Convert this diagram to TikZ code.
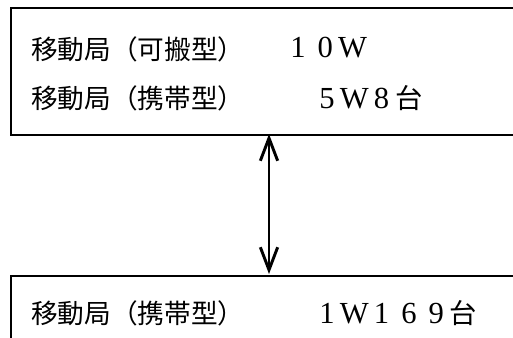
\documentclass[tikz,border=0pt]{standalone}
\usepackage{fontspec}
\newfontfamily\jp{Noto Sans CJK JP}
\newfontfamily\ser{Liberation Serif}
\usetikzlibrary{arrows.meta}
\newcommand{\fwc}[1]{\makebox[1em]{\ser\scalebox{1.12}{#1}}}
\newcommand{\fwk}[1]{\makebox[1em]{#1}}
\begin{document}
\begin{tikzpicture}[x=0.75pt,y=-0.75pt,
  boxline/.style={line width=2pt},
  txt/.style={anchor=west,inner sep=0pt,font=\jp\fontsize{20}{22}\selectfont},
  num/.style={anchor=west,inner sep=0pt,font=\jp\fontsize{20.5}{22}\selectfont},
  conn/.style={line width=2.2pt,{Straight Barb[length=17pt,width=13pt]}-{Straight Barb[length=17pt,width=13pt]}}]
\useasboundingbox (0,0) rectangle (513,338);
% top box (open to the right)
\draw[boxline] (513,8) -- (11,8) -- (11,135) -- (513,135);
% bottom box (open to the right and bottom)
\draw[boxline] (513,276) -- (11,276) -- (11,338);
\coordinate (topedge) at (269,134);
\coordinate (botedge) at (269,274);
\draw[conn] (topedge) -- (botedge);
\node[txt] (t1) at (31,49) {移動局（可搬型）};
\node[num] (v1) at (284,48) {\fwc{1}\fwc{0}\fwc{W}};
\node[txt] (t2) at (31,98) {移動局（携帯型）};
\node[num] (v2) at (313,98) {\fwc{5}\fwc{W}\fwc{8}\fwk{台}};
\node[txt] (t3) at (31,313) {移動局（携帯型）};
\node[num] (v3) at (313,313) {\fwc{1}\fwc{W}\fwc{1}\fwc{6}\fwc{9}\fwk{台}};
\end{tikzpicture}
\end{document}
